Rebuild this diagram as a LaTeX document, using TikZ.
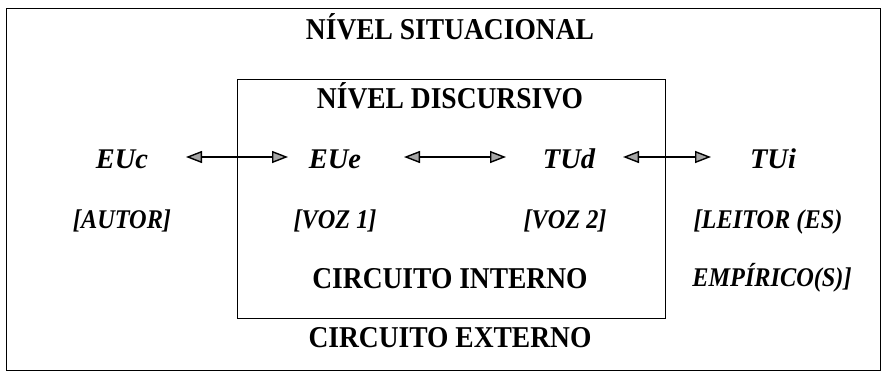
\documentclass[tikz,border=0pt]{standalone}
\usepackage{fontspec}
\usepackage{graphicx}
\setmainfont{Liberation Serif}
\usetikzlibrary{arrows.meta}
\newcommand\hdtxt[1]{\scalebox{1}[1.1]{#1}}
\newcommand\lbtxt[1]{\scalebox{0.9}[1]{#1}}
\begin{document}
\begin{tikzpicture}[x=1pt,y=-1pt,
  head/.style={font=\fontsize{27.5}{30}\selectfont\bfseries, inner sep=0pt, anchor=base},
  lab/.style={font=\fontsize{27}{30}\selectfont\bfseries\itshape, inner sep=0pt, anchor=base},
  big/.style={font=\fontsize{28.5}{30}\selectfont\bfseries\itshape, inner sep=0pt, anchor=base},
  frame/.style={draw, line width=1pt},
  dbl/.style={line width=1.4pt, {Triangle[length=16pt,width=12pt,fill=gray!70]}-{Triangle[length=16pt,width=12pt,fill=gray!70]}}
]
\useasboundingbox (0,0) rectangle (882,385);
\fill[white] (0,0) rectangle (882,385);
\draw[frame] (6,9) rectangle (880,370);
\draw[frame] (237,80) rectangle (665,318);
\node[head] (sit) at (450,40) {\hdtxt{NÍVEL SITUACIONAL}};
\node[head] (dis) at (450,108) {\hdtxt{NÍVEL DISCURSIVO}};
\node[big] (euc) at (122,168) {EUc};
\node[big] (eue) at (335,168) {EUe};
\node[big] (tud) at (569,168) {TUd};
\node[big] (tui) at (773,168) {TUi};
\node[lab] (aut) at (122,228) {\lbtxt{[AUTOR]}};
\node[lab] (v1) at (335,228) {\lbtxt{[VOZ 1]}};
\node[lab] (v2) at (565,228) {\lbtxt{[VOZ 2]}};
\node[lab] (lei) at (768,228) {\lbtxt{[LEITOR (ES)}};
\node[head] (ci) at (450,288) {\hdtxt{CIRCUITO INTERNO}};
\node[lab] (emp) at (772,286) {\lbtxt{EMPÍRICO(S)]}};
\node[head] (ce) at (450,347) {\hdtxt{CIRCUITO EXTERNO}};
\coordinate (a1) at (186,157); \coordinate (a2) at (288,157);
\coordinate (b1) at (404,157); \coordinate (b2) at (506,157);
\coordinate (c1) at (623,157); \coordinate (c2) at (711,157);
\draw[dbl] (a1) -- (a2);
\draw[dbl] (b1) -- (b2);
\draw[dbl] (c1) -- (c2);
\end{tikzpicture}
\end{document}
